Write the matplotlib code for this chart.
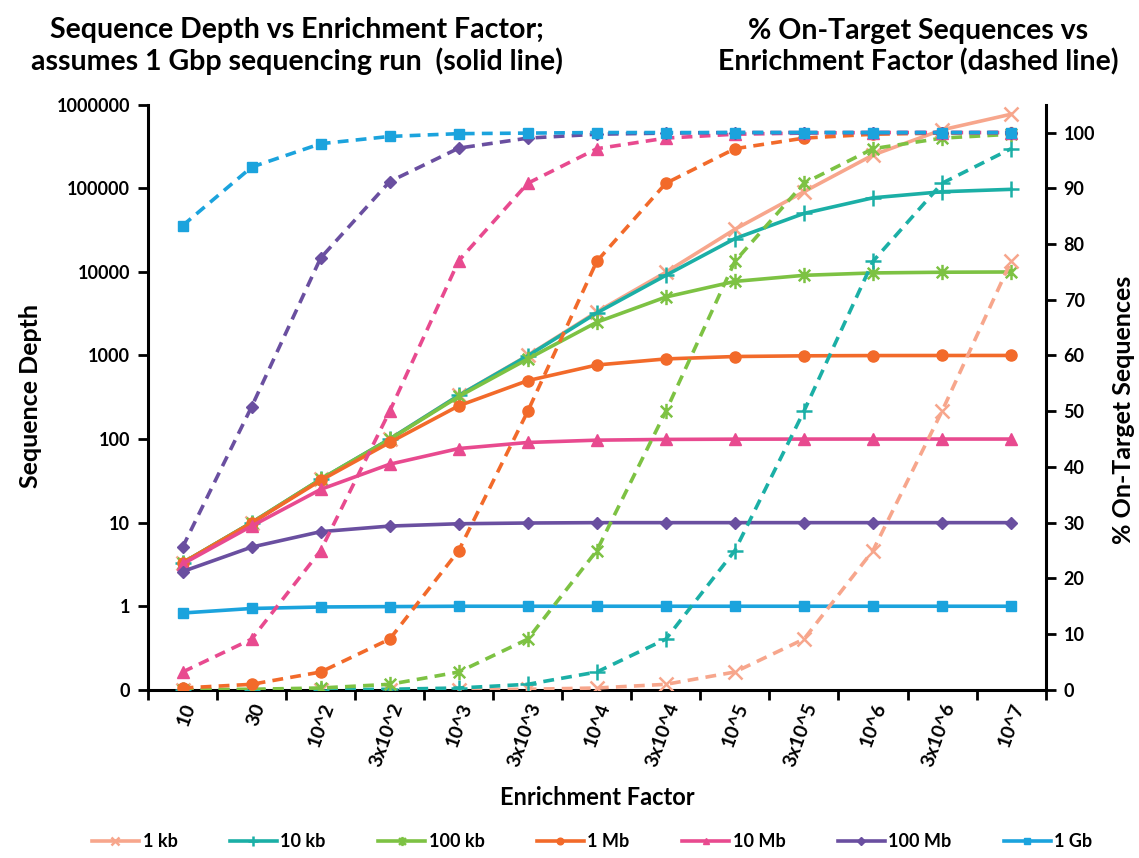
import matplotlib
matplotlib.use("Agg")
import matplotlib.pyplot as plt
from matplotlib.path import Path
from matplotlib.ticker import FixedLocator, FixedFormatter, NullLocator

plt.rcParams['font.family'] = ['Lato', 'DejaVu Sans']
plt.rcParams['font.weight'] = 'bold'

categories = ["10", "30", "10^2", "3x10^2", "10^3", "3x10^3", "10^4", "3x10^4",
              "10^5", "3x10^5", "10^6", "3x10^6", "10^7"]

series_names = ["1 kb", "10 kb", "100 kb", "1 Mb", "10 Mb", "100 Mb", "1 Gb"]

depth_1kb = [3.3, 10, 33, 100, 333, 1000, 3320, 9900, 32300, 90900, 250000, 500000, 769000]
depth_10kb = [3.3, 10, 33, 100, 332, 990, 3230, 9090, 25000, 50000, 76900, 90900, 97100]
depth_100kb = [3.3, 10, 33, 99, 323, 909, 2500, 5000, 7690, 9090, 9710, 9900, 9970]
depth_1Mb = [3.3, 9.9, 32, 91, 250, 500, 769, 909, 971, 990, 997, 999, 1000]
depth_10Mb = [3.2, 9.1, 25, 50, 77, 91, 97, 99, 99.7, 99.9, 100, 100, 100]
depth_100Mb = [2.6, 5.1, 7.8, 9.1, 9.7, 9.9, 10, 10, 10, 10, 10, 10, 10]
depth_1Gb = [0.83, 0.94, 0.98, 0.99, 1, 1, 1, 1, 1, 1, 1, 1, 1]

pct_1kb = [0, 0, 0, 0.01, 0.03, 0.1, 0.33, 0.99, 3.2, 9.1, 25, 50, 76.9]
pct_10kb = [0, 0.01, 0.03, 0.1, 0.33, 0.99, 3.2, 9.1, 25, 50, 76.9, 90.9, 97.1]
pct_100kb = [0.03, 0.1, 0.33, 0.99, 3.2, 9.1, 25, 50, 76.9, 90.9, 97.1, 99, 99.7]
pct_1Mb = [0.33, 0.99, 3.2, 9.1, 25, 50, 76.9, 90.9, 97.1, 99, 99.7, 99.9, 100]
pct_10Mb = [3.2, 9.1, 25, 50, 77, 90.9, 97.1, 99, 99.7, 99.9, 100, 100, 100]
pct_100Mb = [25.6, 50.8, 77.5, 91.2, 97.2, 99, 99.7, 99.9, 100, 100, 100, 100, 100]
pct_1Gb = [83.3, 93.8, 98, 99.3, 99.8, 99.9, 100, 100, 100, 100, 100, 100, 100]

left_ticks = [0.1, 1, 10, 100, 1000, 10000, 100000, 1000000]
left_tick_labels = ["0", "1", "10", "100", "1000", "10000", "100000", "1000000"]
right_ticks = [0, 10, 20, 30, 40, 50, 60, 70, 80, 90, 100]

depths = [depth_1kb, depth_10kb, depth_100kb, depth_1Mb, depth_10Mb, depth_100Mb, depth_1Gb]
pcts = [pct_1kb, pct_10kb, pct_100kb, pct_1Mb, pct_10Mb, pct_100Mb, pct_1Gb]

colors = ["#F7A68C", "#1BAFA6", "#7DC243", "#F26A2A", "#E84A8F", "#6A4FA0", "#1BA3DD"]

star = Path([(0, -1), (0, 1), (-0.75, -0.75), (0.75, 0.75), (-0.75, 0.75), (0.75, -0.75)],
            [Path.MOVETO, Path.LINETO, Path.MOVETO, Path.LINETO, Path.MOVETO, Path.LINETO])
markers = ["x", "+", star, "o", "^", "D", "s"]
msizes = [10, 11, 11, 8, 8, 6.5, 7]
mews = [1.8, 1.8, 1.8, 1, 1, 1, 1]

fig = plt.figure(figsize=(11.39, 8.58), dpi=100)
ax = fig.add_axes([0.130, 0.196, 0.788, 0.682])
ax2 = ax.twinx()

x = list(range(len(categories)))
handles = []
for i in range(7):
    h, = ax.plot(x, depths[i], color=colors[i], lw=2.6, marker=markers[i],
                 ms=msizes[i], mew=mews[i], mec=colors[i], mfc=colors[i],
                 label=series_names[i], solid_joinstyle='round')
    handles.append(h)
    ax2.plot(x, pcts[i], color=colors[i], lw=2.6, ls=(0, (3, 2)), marker=markers[i],
             ms=msizes[i], mew=mews[i], mec=colors[i], mfc=colors[i])

ax.set_yscale('log')
ax.set_ylim(0.1, 1000000)
ax.yaxis.set_major_locator(FixedLocator(left_ticks))
ax.yaxis.set_major_formatter(FixedFormatter(left_tick_labels))
ax.yaxis.set_minor_locator(NullLocator())
ax2.set_ylim(0, 105)
ax2.set_yticks(right_ticks)
ax.set_xlim(-0.5, len(categories) - 0.5)

ax.set_xticks(x)
ax.set_xticklabels(categories, rotation=70, ha='right', rotation_mode='anchor')
ax.set_xticks([k - 0.5 for k in range(len(categories) + 1)], minor=True)
ax.tick_params(axis='x', which='major', length=0, pad=8, labelsize=14)
ax.tick_params(axis='x', which='minor', length=7, width=2, direction='out')
ax.tick_params(axis='y', which='major', length=7, width=2, direction='out', labelsize=13, pad=6)
ax2.tick_params(axis='y', which='major', length=7, width=2, direction='out', labelsize=13, pad=6)

for a in (ax, ax2):
    a.spines['top'].set_visible(False)
    for s in ('left', 'right', 'bottom'):
        a.spines[s].set_linewidth(2.2)
ax.spines['right'].set_visible(False)
ax2.spines['left'].set_visible(False)
ax2.spines['bottom'].set_visible(False)

for lbl in ax.get_xticklabels() + ax.get_yticklabels() + ax2.get_yticklabels():
    lbl.set_fontweight('bold')

fig.text(0.027, 0.538, "Sequence Depth", rotation=90, ha='center', va='center',
         fontsize=18, fontweight='bold')
fig.text(0.986, 0.522, "% On-Target Sequences", rotation=90, ha='center', va='center',
         fontsize=18, fontweight='bold')
fig.text(0.524, 0.070, "Enrichment Factor", ha='center', va='center',
         fontsize=17, fontweight='bold')

fig.text(0.261, 0.946, "Sequence Depth vs Enrichment Factor;\nassumes 1 Gbp sequencing run  (solid line)",
         ha='center', va='center', fontsize=20.5, fontweight='bold', linespacing=1.2)
fig.text(0.806, 0.946, "% On-Target Sequences vs\nEnrichment Factor (dashed line)",
         ha='center', va='center', fontsize=20.5, fontweight='bold', linespacing=1.2)

leg = fig.legend(handles=handles, labels=series_names, loc='center', ncol=7,
                 bbox_to_anchor=(0.52, 0.019), frameon=False, fontsize=13,
                 handlelength=2.6, columnspacing=2.9, handletextpad=0.2, markerscale=0.6)
for t in leg.get_texts():
    t.set_fontweight('bold')

fig.savefig("out.png", dpi=100)
